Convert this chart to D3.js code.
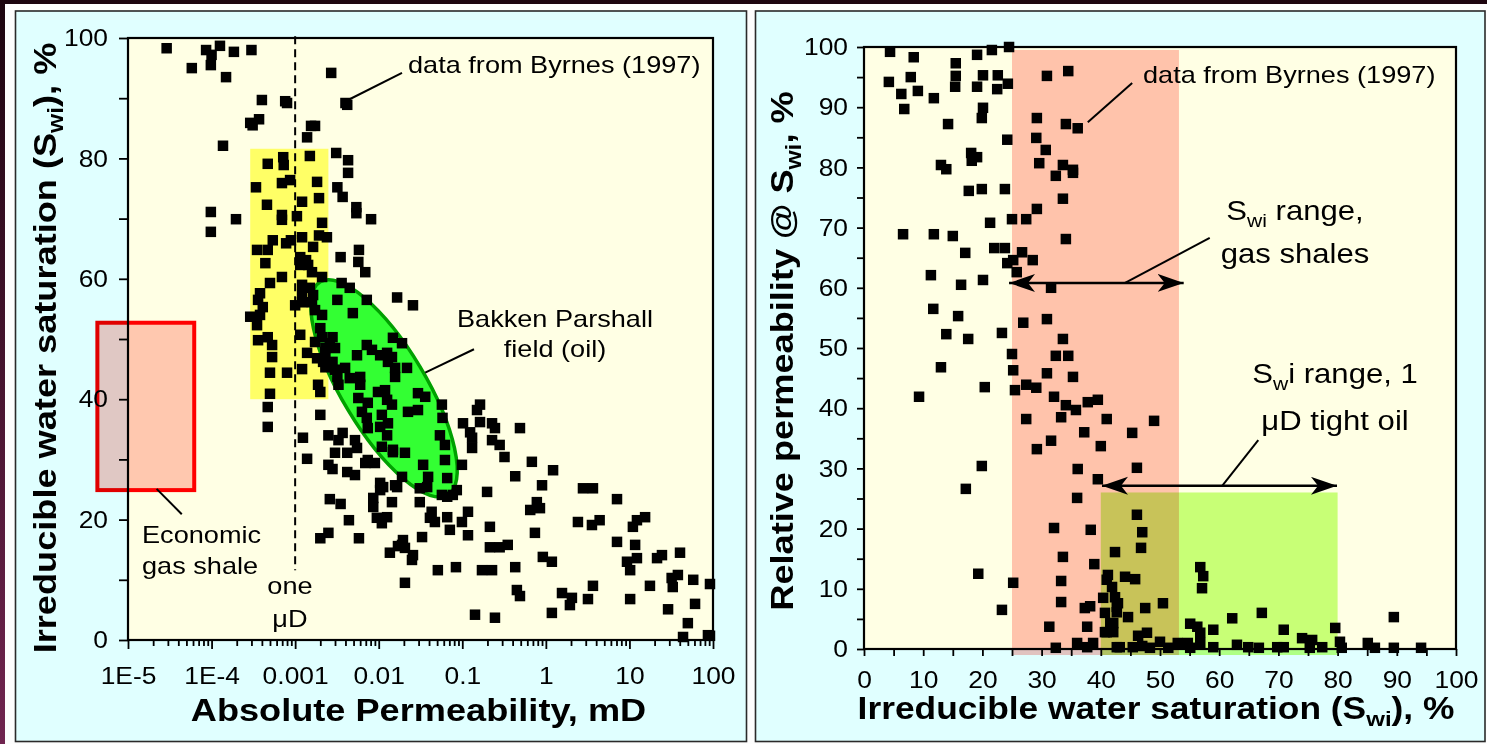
<!DOCTYPE html>
<html><head><meta charset="utf-8">
<script src="https://cdn.jsdelivr.net/npm/d3@7"></script>
<style>
body{margin:0;overflow:hidden;background:#000}
text{font-family:"Liberation Sans",Arial,Helvetica,sans-serif;fill:#000}
</style></head>
<body><svg id="c" width="1487" height="744"></svg>
<script>
// ---------------- DATA ----------------
// Left panel: Byrnes (1997) data, [absolute permeability mD, irreducible water saturation %]
const leftPermSwi = [
[2.9e-5,98.3],[5.8e-5,95.0],[8.6e-5,98.0],[1.0e-4,97.2],[1.26e-4,98.7],[9.8e-5,95.5],[1.85e-4,97.7],[3.0e-4,98.0],[1.49e-4,93.5],[2.7e-3,94.2],
[4.0e-4,89.7],[7.6e-4,89.5],[8.0e-4,89.2],[4.2e-3,88.9],[4.0e-3,89.2],[2.9e-4,85.9],[3.1e-4,85.5],[3.7e-4,86.5],[1.73e-3,85.4],[1.55e-3,85.4],
[1.39e-3,83.5],[1.37e-4,82.1],[3.1e-3,80.9],[4.3e-3,79.7],[4.3e-3,77.6],[7.2e-4,80.2],[7.3e-4,78.9],[1.5e-3,80.4],[4.7e-4,79.1],[3.4e-4,75.2],
[6.95e-4,75.9],[8.7e-4,76.4],[1.83e-3,76.1],[3.2e-3,75.2],[3.7e-3,73.6],[1.21e-3,72.8],[1.93e-3,73.4],[4.6e-4,72.3],[9.8e-5,71.1],[1.96e-4,69.9],
[6.95e-4,70.6],[6.95e-4,69.8],[1.05e-3,70.4],[2.1e-3,69.3],[5.4e-3,71.9],[5.4e-3,70.9],[8.1e-3,69.9],[9.8e-5,67.8],[5.4e-4,66.4],[8.9e-4,66.4],
[1.21e-3,66.9],[1.93e-3,67.2],[2.4e-3,66.9],[5.8e-3,64.8],[3.5e-4,64.8],[4.7e-4,64.8],[7.8e-4,65.9],[1.64e-3,65.3],[3.5e-3,63.6],[5.7e-3,62.8],
[6.9e-3,61.1],[4.4e-4,62.6],[6.95e-4,60.3],[1.15e-3,63.6],[1.15e-3,62.3],[1.43e-3,62.3],[1.59e-3,61.1],[2.1e-3,60.3],[1.35e-3,63.1],[5.0e-4,59.3],
[3.8e-4,57.6],[3.6e-4,56.5],[4.1e-4,55.3],[3.8e-4,54.0],[2.9e-4,53.7],[3.5e-4,52.3],[1.21e-3,59.0],[1.5e-3,58.5],[1.64e-3,57.3],[1.21e-3,57.3],
[1.59e-3,56.1],[1.21e-3,56.1],[1.0e-3,55.6],[1.73e-3,54.8],[2.1e-3,54.0],[3.6e-3,59.3],[4.5e-3,58.5],[3.2e-3,56.5],[7.2e-3,56.5],[1.66e-2,56.9],
[4.9e-3,54.3],[2.0e-3,51.8],[2.1e-3,50.3],[1.73e-3,49.5],[2.8e-3,50.3],[2.6e-3,49.3],[3.0e-3,48.5],[2.3e-3,48.5],[3.6e-4,49.8],[4.7e-4,50.3],
[5.3e-4,49.0],[5.3e-4,47.0],[5.0e-4,44.4],[8.0e-4,44.4],[1.15e-3,50.7],[1.39e-3,47.7],[1.21e-3,45.0],[1.83e-3,46.8],[2.3e-3,47.8],[2.16e-3,46.2],
[2.8e-3,46.2],[2.3e-3,45.3],[3.0e-3,44.9],[3.96e-3,45.2],[3.2e-3,43.7],[4.5e-3,43.5],[1.88e-3,42.4],[2.0e-3,41.2],[3.3e-3,42.4],[6.0e-3,43.7],
[6.0e-3,42.4],[5.5e-3,47.3],[7.2e-3,49.0],[8.3e-3,48.2],[1.04e-2,47.3],[1.29e-2,46.2],[1.57e-2,45.2],[1.48e-2,50.2],[5.0e-4,40.9],[4.7e-4,38.7],
[4.7e-4,35.4],[5.7e-3,40.2],[7.4e-3,39.4],[6.3e-3,37.9],[7.2e-3,36.9],[9.8e-3,41.2],[1.26e-2,39.9],[1.44e-2,39.1],[1.09e-2,37.4],[1.04e-2,35.4],
[1.29e-2,36.0],[1.26e-2,34.0],[7.4e-3,35.2],[1.09e-2,32.1],[1.48e-2,31.6],[7.4e-3,29.9],[9.0e-3,29.4],[6.9e-3,29.4],[2.0e-3,37.4],[2.5e-3,34.0],
[3.7e-3,34.4],[3.3e-3,33.2],[5.2e-3,33.2],[5.5e-3,31.9],[4.2e-3,31.1],[3.0e-3,31.1],[2.5e-3,29.1],[2.8e-3,28.4],[4.2e-3,27.9],[5.2e-3,27.4],
[1.24e-3,33.6],[1.39e-3,30.1],[1.04e-2,26.1],[1.04e-2,24.9],[1.57e-2,25.7],[8.6e-3,23.6],[8.6e-3,22.1],[1.44e-2,22.9],[2.6e-3,23.4],[3.5e-3,22.6],
[4.4e-3,19.9],[9.5e-3,20.3],[1.09e-2,19.4],[1.26e-2,20.4],[2.0e-3,16.9],[2.5e-3,17.8],[5.8e-3,16.9],[1.36e-2,14.5],[1.7e-2,15.6],[2.57e-2,55.6],
[1.9e-2,49.3],[1.26e-2,47.7],[1.44e-2,47.0],[1.57e-2,43.7],[2.18e-2,45.2],[1.19e-2,41.5],[2.95e-2,41.0],[3.6e-2,40.4],[2.95e-2,38.2],[2.24e-2,37.9],
[5.7e-2,39.1],[5.8e-2,36.9],[5.4e-2,34.0],[6.2e-2,32.4],[6.2e-2,29.9],[6.6e-2,26.9],[1.48e-2,31.2],[2.06e-2,31.1],[3.4e-2,29.1],[3.9e-2,27.1],
[1.9e-2,27.1],[1.66e-2,25.4],[1.13e-2,25.4],[3.1e-2,25.2],[3.8e-2,25.4],[0.102,36.0],[0.124,34.5],[0.131,33.6],[0.131,31.9],[0.163,39.1],
[0.15,38.2],[0.163,36.2],[0.227,36.0],[0.246,35.2],[0.227,33.2],[0.28,32.4],[0.49,35.2],[0.32,30.4],[0.68,29.6],[1.22,28.2],
[0.099,29.1],[0.43,27.2],[0.9,25.7],[2.78,25.2],[3.66,25.2],[0.198,24.6],[8.6e-2,24.9],[6.6e-2,23.8],[7.1,23.4],[5.7e-2,24.1],
[7.7e-2,24.1],[3.1e-2,22.9],[4.3e-2,21.3],[4.1e-2,20.3],[4.7e-2,19.6],[6.6e-2,20.4],[9.9e-2,19.6],[0.117,21.3],[0.78,22.9],[0.65,21.6],
[0.85,21.9],[0.214,18.8],[7.1e-2,18.3],[0.117,17.4],[0.74,17.8],[2.42,19.6],[3.56,19.1],[4.4,19.9],[11,18.8],[12.3,19.9],
[15.4,20.4],[3.3e-2,17.1],[1.95e-2,16.6],[1.9e-2,15.8],[2.06e-2,15.3],[2.57e-2,14.1],[2.5e-2,13.3],[0.214,15.4],[0.28,15.4],[0.35,15.8],
[7.1,16.3],[11.7,15.8],[0.92,13.8],[1.18,13.0],[9.35,13.0],[10.2,11.6],[12.3,13.6],[21.4,13.6],[24.5,14.1],[40.3,14.5],
[5.1e-2,11.6],[8.4e-2,12.1],[0.172,11.6],[0.227,11.6],[0.43,12.1],[2.06e-2,9.5],[3.66,9.0],[17.6,9.0],[32,10.3],[38,10.8],
[33,8.8],[58,10.0],[92,9.3],[0.45,8.3],[0.49,7.3],[1.56,7.8],[2.05,7.0],[1.94,5.8],[3.19,6.8],[10.2,6.8],
[0.142,4.2],[0.246,3.7],[1.18,4.5],[29,5.1],[61,6.0],[50,2.8],[43.8,0.5],[87,0.8],[92,0.7]
];
// Right panel: [irreducible water saturation %, relative permeability @ Swi %]
const rightSwiKr = [
[4.4,99.2],[4.2,94.2],[6.3,92.2],[6.8,89.7],[7.9,95.0],[8.4,98.3],[9.1,92.7],[11.8,91.5],[14.2,87.2],[15.5,97.3],
[15.5,95.2],[15.4,93.4],[13.0,80.4],[13.9,79.7],[18.1,82.4],[18.2,81.1],[19.1,81.7],[17.7,76.1],[19.9,76.4],[19.1,98.7],
[20.1,95.3],[19.1,93.4],[20.1,89.9],[19.9,88.2],[21.6,99.5],[22.6,95.3],[22.5,93.0],[24.5,100],[24.3,93.9],[24.2,84.6],
[23.8,76.4],[21.3,70.8],[25.0,71.4],[27.4,71.4],[29.2,73.1],[30.9,95.2],[34.5,96.0],[29.2,88.2],[29.1,84.9],[30.7,82.9],
[29.6,80.7],[34.1,87.2],[36.1,86.5],[32.4,78.6],[33.6,80.4],[35.3,79.6],[35.3,79.1],[33.6,74.8],[6.6,68.9],[11.8,68.9],
[15.0,68.6],[34.1,68.1],[17.1,65.8],[22.0,66.6],[23.8,66.6],[24.2,64.1],[25.2,64.6],[26.7,65.9],[25.8,62.6],[28.5,64.6],
[11.3,62.1],[16.4,60.5],[20.1,61.3],[31.6,60.0],[11.7,56.5],[15.9,55.3],[13.9,52.3],[17.6,51.5],[23.3,52.5],[13.0,46.8],
[9.3,41.9],[20.4,43.5],[26.9,54.2],[30.9,54.8],[33.6,51.5],[25.0,49.0],[25.2,46.3],[32.4,48.7],[34.5,48.7],[30.9,45.8],
[35.3,45.2],[25.5,43.0],[27.4,43.9],[29.1,43.4],[32.1,41.9],[34.1,40.5],[35.8,39.7],[37.8,41.0],[39.5,41.4],[33.3,38.5],
[27.4,38.2],[41.0,38.2],[37.2,36.0],[31.6,34.6],[29.2,33.2],[40.0,33.7],[36.1,29.9],[19.9,30.4],[39.5,28.2],[17.2,26.6],
[36.0,25.1],[32.1,20.1],[38.3,19.8],[33.6,15.3],[38.9,14.1],[19.3,12.5],[25.2,11.0],[33.3,11.3],[33.3,7.8],[23.3,6.5],
[37.3,6.8],[38.2,7.1],[31.3,3.7],[37.7,3.7],[32.4,0.2],[36.0,1.0],[37.7,0.3],[38.7,1.0],[40.4,8.5],[41.2,12.3],
[41.0,11.5],[41.9,10.3],[42.4,16.1],[40.7,6.0],[41.0,2.8],[42.1,4.3],[42.7,7.0],[42.7,0.3],[46.1,22.3],[47.0,19.4],
[46.8,16.8],[44.1,12.0],[45.8,11.6],[42.4,8.6],[42.9,7.6],[42.7,6.1],[47.5,6.8],[50.5,7.6],[44.6,5.3],[41.6,4.3],
[42.1,2.8],[40.7,2.8],[46.3,2.2],[47.8,2.7],[50.0,1.2],[43.2,0.3],[45.4,0.3],[47.0,0.5],[48.3,0.2],[51.4,0.2],
[53.0,1.0],[54.7,1.0],[55.1,0.2],[55.1,4.2],[56.3,3.7],[56.8,2.7],[56.8,1.0],[56.8,13.6],[57.3,12.1],[57.1,10.1],
[59.0,3.2],[59.0,0.3],[62.2,5.1],[63.0,0.7],[64.9,0.3],[66.7,0.2],[67.2,6.0],[69.8,0.3],[70.9,3.2],[70.9,0.3],
[74.0,1.8],[75.7,1.5],[75.3,0.2],[77.4,0.3],[79.6,3.5],[80.4,1.2],[80.7,0.2],[85.1,1.0],[86.3,0.2],[89.5,5.3],
[89.5,0.2],[94.1,0.2],[49.0,37.9],[45.3,35.9],[46.1,30.1]
];

// Axis ticks / labels
const leftPermTicks = [1e-5,1e-4,1e-3,1e-2,1e-1,1,10,100];
const leftPermTickLabels = ["1E-5","1E-4","0.001","0.01","0.1","1","10","100"];
const leftSwiTicks = [0,10,20,30,40,50,60,70,80,90,100];
const leftSwiLabelled = [0,20,40,60,80,100];
const rightTicks = [0,5,10,15,20,25,30,35,40,45,50,55,60,65,70,75,80,85,90,95,100];
const rightLabelled = [0,10,20,30,40,50,60,70,80,90,100];

// Annotation regions (data units)
const gasShaleBoxPerm = [4.3e-6, 6.2e-5];
const gasShaleBoxSwi = [24.9, 52.7];
const microDarcyBoxPerm = [2.9e-4, 2.5e-3];
const microDarcyBoxSwi = [40, 81.6];
const bakkenTipsPerm = [2.0e-3, 6.7e-2];
const bakkenTipsSwi = [59.5, 24.1];
const oneMicroDarcy = 0.001;
const oneMicroDarcySwi = [100.3, 11.6];
const gasShaleSwiRange = [25, 53.2];
const gasShaleKrBand = [-1, 99.5];
const tightOilSwiRange = [40, 80];
const tightOilKrBand = [-1, 26];
const gasArrowSwi = [24.5, 54]; const gasArrowKr = 60.8;
const oilArrowSwi = [40.2, 79.9]; const oilArrowKr = 27.1;

// ---------------- DRAWING ----------------
const svg = d3.select("#c");
const defs = svg.append("defs");
const grad = defs.append("linearGradient").attr("id","bg").attr("x1",0).attr("y1",0).attr("x2",0).attr("y2",1);
grad.append("stop").attr("offset","0%").attr("stop-color","#1c040e");
grad.append("stop").attr("offset","100%").attr("stop-color","#70244f");
defs.append("marker").attr("id","ah").attr("markerUnits","userSpaceOnUse")
  .attr("markerWidth",28).attr("markerHeight",20).attr("refX",26).attr("refY",9)
  .attr("orient","auto-start-reverse")
  .append("path").attr("d","M0,0 L26,9 L0,18 L7,9 Z").attr("fill","#000");

svg.append("rect").attr("width",1487).attr("height",744).attr("fill","url(#bg)");
svg.append("rect").attr("x",5).attr("y",4).attr("width",1482).attr("height",740).attr("fill","#fdfdfd");
svg.append("rect").attr("x",15.5).attr("y",11).attr("width",731).attr("height",730.5)
  .attr("fill","#e0ffff").attr("stroke","#2a2a2a").attr("stroke-width",1.6);
svg.append("rect").attr("x",755.5).attr("y",11).attr("width",729.5).attr("height",730.5)
  .attr("fill","#e0ffff").attr("stroke","#2a2a2a").attr("stroke-width",1.6);

function stretch(sel, k){
  sel.each(function(){
    const L = this.getComputedTextLength();
    this.setAttribute("textLength", L*k);
    this.setAttribute("lengthAdjust","spacingAndGlyphs");
  });
}
function richText(parent, o){
  const size=o.size, k=o.k||1.13;
  const t = parent.append("text").attr("x",o.x).attr("y",o.y).attr("font-size",size)
    .attr("font-weight",o.weight||"normal").attr("text-anchor",o.anchor||"start");
  if(o.rotate) t.attr("transform",`rotate(${o.rotate},${o.x},${o.y})`);
  let shift=0;
  o.parts.forEach(p=>{
    const s = typeof p==="string" ? p : p[0];
    const sub = typeof p!=="string";
    const ts = t.append("tspan").text(s);
    if(sub){ const d=size*0.24; ts.attr("font-size",size*0.68).attr("dy",d); shift=d; }
    else if(shift){ ts.attr("dy",-shift); shift=0; }
  });
  stretch(t,k);
  return t;
}

// ----- LEFT PANEL -----
const xL = d3.scaleLog().domain([1e-5,100]).range([128,713]);
const yL = d3.scaleLinear().domain([0,100]).range([640,38]);
const gL = svg.append("g");
gL.append("rect").attr("x",xL(1e-5)).attr("y",yL(100)).attr("width",xL(100)-xL(1e-5)).attr("height",yL(0)-yL(100)).attr("fill","#ffffe4");

// gas-shale box
gL.append("rect").attr("x",xL(gasShaleBoxPerm[0])).attr("y",yL(gasShaleBoxSwi[1]))
  .attr("width",xL(gasShaleBoxPerm[1])-xL(gasShaleBoxPerm[0])).attr("height",yL(gasShaleBoxSwi[0])-yL(gasShaleBoxSwi[1]))
  .attr("fill","#ffc8c4").style("mix-blend-mode","multiply").attr("stroke","#ff0000").attr("stroke-width",4);
// micro-Darcy yellow box
gL.append("rect").attr("x",xL(microDarcyBoxPerm[0])).attr("y",yL(microDarcyBoxSwi[1]))
  .attr("width",xL(microDarcyBoxPerm[1])-xL(microDarcyBoxPerm[0])).attr("height",yL(microDarcyBoxSwi[0])-yL(microDarcyBoxSwi[1]))
  .attr("fill","#ffff66");
// Bakken ellipse
{
  const ax=xL(bakkenTipsPerm[0]), ay=yL(bakkenTipsSwi[0]), bx=xL(bakkenTipsPerm[1]), by=yL(bakkenTipsSwi[1]);
  const cx=(ax+bx)/2, cy=(ay+by)/2, rx=Math.hypot(bx-ax,by-ay)/2, ang=Math.atan2(by-ay,bx-ax)*180/Math.PI;
  gL.append("ellipse").attr("cx",cx).attr("cy",cy).attr("rx",rx).attr("ry",42)
    .attr("transform",`rotate(${ang},${cx},${cy})`)
    .attr("fill","#33ff33").attr("stroke","#00a000").attr("stroke-width",3.5);
}
// one microDarcy dashed line
gL.append("line").attr("x1",xL(oneMicroDarcy)).attr("x2",xL(oneMicroDarcy))
  .attr("y1",yL(oneMicroDarcySwi[0])).attr("y2",yL(oneMicroDarcySwi[1]))
  .attr("stroke","#000").attr("stroke-width",2).attr("stroke-dasharray","8,5");
// points
const sq=10.5;
gL.append("g").selectAll("rect").data(leftPermSwi).join("rect")
  .attr("x",d=>xL(d[0])-sq/2).attr("y",d=>yL(d[1])-sq/2).attr("width",sq).attr("height",sq).attr("fill","#000");
// frame
gL.append("rect").attr("x",xL(1e-5)).attr("y",yL(100)).attr("width",xL(100)-xL(1e-5)).attr("height",yL(0)-yL(100))
  .attr("fill","none").attr("stroke","#000").attr("stroke-width",2.2);
// axes
const isMajor = d => Math.abs(Math.log10(d)-Math.round(Math.log10(d)))<1e-6;
const gxL = gL.append("g").attr("transform",`translate(0,${yL(0)})`)
  .call(d3.axisBottom(xL).tickValues(xL.ticks()).tickSize(9).tickPadding(18)
    .tickFormat(d=>{const i=leftPermTicks.findIndex(v=>Math.abs(v-d)/v<1e-6); return i>=0?leftPermTickLabels[i]:"";}));
gxL.select(".domain").remove();
gxL.attr("font-family",null).attr("font-size",24);
gxL.selectAll(".tick line").attr("y2",d=>isMajor(d)?9:6).attr("stroke","#000").attr("stroke-width",1.8);
gxL.selectAll(".tick text").attr("fill","#000").call(stretch,1.1);
const gyL = gL.append("g").attr("transform",`translate(${xL(1e-5)},0)`)
  .call(d3.axisLeft(yL).tickValues(leftSwiTicks).tickSize(9).tickPadding(11)
    .tickFormat(d=>leftSwiLabelled.includes(d)?d:""));
gyL.select(".domain").remove();
gyL.attr("font-family",null).attr("font-size",24);
gyL.selectAll(".tick line").attr("stroke","#000").attr("stroke-width",1.8);
gyL.selectAll(".tick text").attr("fill","#000").call(stretch,1.1);

// titles
richText(gL,{x:418.5,y:721,size:32,weight:"bold",anchor:"middle",parts:["Absolute Permeability, mD"]});
richText(gL,{x:55.5,y:348,size:32,weight:"bold",anchor:"middle",rotate:-90,parts:["Irreducible water saturation (S",["wi"],"), %"]});
// annotations
const line=(g,x1,y1,x2,y2)=>g.append("line").attr("x1",x1).attr("y1",y1).attr("x2",x2).attr("y2",y2).attr("stroke","#000").attr("stroke-width",2);
richText(gL,{x:408,y:73,size:24,parts:["data from Byrnes (1997)"]});
line(gL,xL(0.019),yL(94.2),xL(4.3e-3),yL(89.7));
richText(gL,{x:555,y:327,size:24,anchor:"middle",parts:["Bakken Parshall"]});
richText(gL,{x:555,y:357,size:24,anchor:"middle",parts:["field (oil)"]});
line(gL,xL(0.138),yL(48.3),xL(0.036),yL(44.4));
richText(gL,{x:142,y:543,size:24,parts:["Economic"]});
richText(gL,{x:142,y:574,size:24,parts:["gas shale"]});
line(gL,xL(2.2e-5),yL(25.1),xL(4.4e-5),yL(20.9));
richText(gL,{x:290,y:594,size:24,anchor:"middle",parts:["one"]});
richText(gL,{x:290,y:627,size:24,anchor:"middle",parts:["\u03bcD"]});

// ----- RIGHT PANEL -----
const xR = d3.scaleLinear().domain([0,100]).range([864,1456]);
const yR = d3.scaleLinear().domain([0,100]).range([649,47]);
const gR = svg.append("g");
gR.append("rect").attr("x",xR(0)).attr("y",yR(100)).attr("width",xR(100)-xR(0)).attr("height",yR(0)-yR(100)).attr("fill","#ffffe4");
gR.append("rect").attr("x",xR(gasShaleSwiRange[0])).attr("y",yR(gasShaleKrBand[1]))
  .attr("width",xR(gasShaleSwiRange[1])-xR(gasShaleSwiRange[0])).attr("height",yR(gasShaleKrBand[0])-yR(gasShaleKrBand[1]))
  .attr("fill","#ffc3c0").style("mix-blend-mode","multiply");
gR.append("rect").attr("x",xR(tightOilSwiRange[0])).attr("y",yR(tightOilKrBand[1]))
  .attr("width",xR(tightOilSwiRange[1])-xR(tightOilSwiRange[0])).attr("height",yR(tightOilKrBand[0])-yR(tightOilKrBand[1]))
  .attr("fill","#c8ff84").style("mix-blend-mode","multiply");
gR.append("g").selectAll("rect").data(rightSwiKr).join("rect")
  .attr("x",d=>xR(d[0])-sq/2).attr("y",d=>yR(d[1])-sq/2).attr("width",sq).attr("height",sq).attr("fill","#000");
// arrows
gR.append("line").attr("x1",xR(gasArrowSwi[0])).attr("x2",xR(gasArrowSwi[1])).attr("y1",yR(gasArrowKr)).attr("y2",yR(gasArrowKr))
  .attr("stroke","#000").attr("stroke-width",2.5).attr("marker-start","url(#ah)").attr("marker-end","url(#ah)");
gR.append("line").attr("x1",xR(oilArrowSwi[0])).attr("x2",xR(oilArrowSwi[1])).attr("y1",yR(oilArrowKr)).attr("y2",yR(oilArrowKr))
  .attr("stroke","#000").attr("stroke-width",2.5).attr("marker-start","url(#ah)").attr("marker-end","url(#ah)");
// frame
gR.append("rect").attr("x",xR(0)).attr("y",yR(100)).attr("width",xR(100)-xR(0)).attr("height",yR(0)-yR(100))
  .attr("fill","none").attr("stroke","#000").attr("stroke-width",2.2);
const gxR = gR.append("g").attr("transform",`translate(0,${yR(0)})`)
  .call(d3.axisBottom(xR).tickValues(rightTicks).tickSize(7).tickPadding(15)
    .tickFormat(d=>rightLabelled.includes(d)?d:""));
gxR.select(".domain").remove();
gxR.attr("font-family",null).attr("font-size",24);
gxR.selectAll(".tick line").attr("stroke","#000").attr("stroke-width",1.8);
gxR.selectAll(".tick text").attr("fill","#000").call(stretch,1.1);
const gyR = gR.append("g").attr("transform",`translate(${xR(0)},0)`)
  .call(d3.axisLeft(yR).tickValues(rightTicks).tickSize(7).tickPadding(9)
    .tickFormat(d=>rightLabelled.includes(d)?d:""));
gyR.select(".domain").remove();
gyR.attr("font-family",null).attr("font-size",24);
gyR.selectAll(".tick line").attr("stroke","#000").attr("stroke-width",1.8);
gyR.selectAll(".tick text").attr("fill","#000").call(stretch,1.1);

richText(gR,{x:1156,y:719,size:31,weight:"bold",anchor:"middle",k:1.14,parts:["Irreducible water saturation (S",["wi"],"), %"]});
richText(gR,{x:793,y:351,size:32,weight:"bold",anchor:"middle",rotate:-90,parts:["Relative permeability @ S",["wi"],", %"]});

richText(gR,{x:1143,y:83,size:24,parts:["data from Byrnes (1997)"]});
line(gR,xR(45.3),yR(94.0),xR(37.8),yR(87.5));
richText(gR,{x:1295,y:220,size:27.5,anchor:"middle",parts:["S",["wi"]," range,"]});
richText(gR,{x:1295,y:263,size:27.5,anchor:"middle",parts:["gas shales"]});
line(gR,xR(58.4),yR(68.3),xR(44.1),yR(gasArrowKr));
richText(gR,{x:1335,y:383,size:27.5,anchor:"middle",parts:["S",["w"],"i range, 1"]});
richText(gR,{x:1335,y:430,size:27.5,anchor:"middle",parts:["\u03bcD tight oil"]});
line(gR,xR(66.6),yR(34.7),xR(60.5),yR(oilArrowKr));
</script></body></html>
